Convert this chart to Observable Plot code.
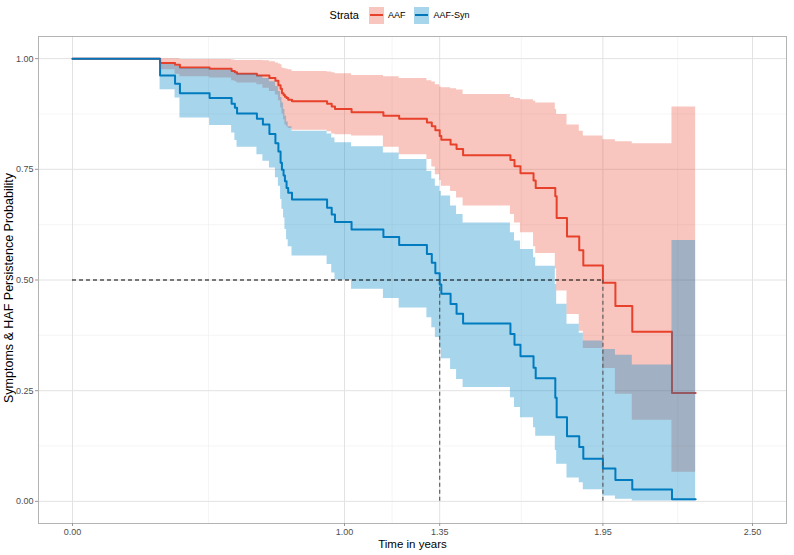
<!DOCTYPE html>
<html><head><meta charset="utf-8">
<script src="https://cdn.jsdelivr.net/npm/d3@7"></script>
<script src="https://cdn.jsdelivr.net/npm/@observablehq/plot@0.6"></script>
<style>
body{margin:0;background:#fff;font-family:"Liberation Sans",Arial,sans-serif;}
#legend{height:30px;display:flex;align-items:center;justify-content:center;padding-left:14px;color:#000;}
#legend .title{font-size:11px;margin-right:10px;}
#legend .key{position:relative;width:15px;height:17px;margin-right:4px;}
#legend .key .ln{position:absolute;left:1px;right:1px;top:7.5px;height:2px;}
#legend .lab{font-size:9px;margin-right:9px;}
</style></head><body>
<div id="legend"></div>
<div id="chart"></div>
<script>
// Shared event times (years)
const times = [0, 0.322, 0.377, 0.395, 0.504, 0.585, 0.597, 0.605, 0.678, 0.700, 0.724, 0.746, 0.757, 0.765, 0.770, 0.776, 0.781, 0.787, 0.793, 0.807, 0.936, 0.953, 0.965, 1.026, 1.143, 1.201, 1.303, 1.321, 1.334, 1.350, 1.356, 1.390, 1.412, 1.436, 1.610, 1.625, 1.647, 1.695, 1.703, 1.775, 1.780, 1.818, 1.863, 1.878, 1.950, 1.996, 2.058, 2.204];
const endTime = 2.291;

// AAF
const aafSurv = [1, 0.990, 0.986, 0.980, 0.977, 0.972, 0.969, 0.966, 0.962, 0.962, 0.956, 0.950, 0.940, 0.932, 0.922, 0.918, 0.914, 0.911, 0.907, 0.904, 0.898, 0.892, 0.886, 0.879, 0.871, 0.864, 0.856, 0.847, 0.838, 0.825, 0.817, 0.806, 0.796, 0.782, 0.771, 0.757, 0.741, 0.725, 0.708, 0.689, 0.640, 0.598, 0.567, 0.533, 0.494, 0.441, 0.383, 0.245];
const aafUpper = [1, 1, 1, 0.998, 0.998, 0.997, 0.996, 0.996, 0.996, 0.995, 0.993, 0.990, 0.988, 0.986, 0.979, 0.978, 0.977, 0.976, 0.975, 0.971, 0.970, 0.968, 0.966, 0.962, 0.959, 0.955, 0.950, 0.947, 0.941, 0.936, 0.934, 0.932, 0.929, 0.919, 0.912, 0.910, 0.907, 0.904, 0.900, 0.885, 0.874, 0.850, 0.836, 0.825, 0.817, 0.812, 0.808, 0.891];
const aafLower = [1, 0.975, 0.965, 0.959, 0.956, 0.950, 0.948, 0.945, 0.941, 0.933, 0.926, 0.918, 0.905, 0.889, 0.875, 0.862, 0.850, 0.846, 0.842, 0.838, 0.835, 0.830, 0.828, 0.825, 0.800, 0.783, 0.772, 0.755, 0.738, 0.725, 0.712, 0.700, 0.685, 0.667, 0.648, 0.629, 0.607, 0.575, 0.560, 0.525, 0.475, 0.422, 0.384, 0.345, 0.300, 0.242, 0.183, 0.066];

// AAF-Syn
const synSurv = [1, 0.962, 0.943, 0.922, 0.911, 0.898, 0.889, 0.876, 0.864, 0.851, 0.830, 0.809, 0.790, 0.765, 0.749, 0.736, 0.723, 0.708, 0.697, 0.682, 0.663, 0.648, 0.631, 0.614, 0.597, 0.579, 0.559, 0.539, 0.515, 0.490, 0.469, 0.446, 0.424, 0.402, 0.378, 0.354, 0.328, 0.302, 0.278, 0.234, 0.190, 0.147, 0.123, 0.096, 0.074, 0.048, 0.027, 0.005];
const synUpper = [1, 0.987, 0.982, 0.978, 0.974, 0.969, 0.967, 0.965, 0.960, 0.955, 0.948, 0.937, 0.926, 0.912, 0.900, 0.885, 0.870, 0.857, 0.846, 0.836, 0.830, 0.821, 0.810, 0.801, 0.787, 0.772, 0.745, 0.728, 0.712, 0.700, 0.690, 0.667, 0.648, 0.629, 0.607, 0.588, 0.569, 0.550, 0.531, 0.490, 0.445, 0.400, 0.380, 0.362, 0.343, 0.330, 0.308, 0.589];
const synLower = [1, 0.930, 0.911, 0.866, 0.849, 0.832, 0.815, 0.800, 0.783, 0.768, 0.753, 0.731, 0.712, 0.682, 0.660, 0.640, 0.614, 0.591, 0.575, 0.554, 0.535, 0.516, 0.500, 0.479, 0.458, 0.437, 0.415, 0.392, 0.370, 0.345, 0.322, 0.298, 0.275, 0.257, 0.234, 0.212, 0.189, 0.166, 0.147, 0.115, 0.084, 0.053, 0.042, 0.026, 0.012, 0.005, 0.001, 0.001];

const strataNames = ["AAF", "AAF-Syn"];
const strataColors = ["#E7412B", "#0076BA"];
const bandColors = ["#E7412B", "#0088C8"];
const bandOpacity = [0.3, 0.35];
const medianTimes = [1.35, 1.95];
const medianLevel = 0.5;

const xTicks = [0, 1, 1.35, 1.95, 2.5];
const xMinor = [0.5, 1.175, 1.65, 2.225];
const yTicks = [0, 0.25, 0.5, 0.75, 1];
const yMinor = [0.125, 0.375, 0.625, 0.875];

function rows(name, s, lo, hi) {
  const r = times.map((t, i) => ({strata: name, t, s: s[i], lo: lo[i], hi: hi[i]}));
  r.push({...r[r.length - 1], t: endTime});
  return r;
}
const aaf = rows(strataNames[0], aafSurv, aafLower, aafUpper);
const syn = rows(strataNames[1], synSurv, synLower, synUpper);

// legend
const leg = document.getElementById("legend");
leg.innerHTML = `<span class="title">Strata</span>` + strataNames.map((n, i) =>
  `<div class="key" style="background:${d3.color(bandColors[i]).copy({opacity: bandOpacity[i]})}"><div class="ln" style="background:${strataColors[i]}"></div></div><span class="lab">${n}</span>`).join("");

const fmt = d3.format(".2f");
const chart = Plot.plot({
  width: 794, height: 525,
  marginLeft: 38, marginRight: 8, marginTop: 6, marginBottom: 32,
  style: {fontFamily: "Liberation Sans, Arial, sans-serif", fontSize: "9px", background: "white"},
  x: {domain: [-0.125, 2.625]},
  y: {domain: [-0.05, 1.05]},
  marks: [
    Plot.ruleX(xMinor, {stroke: "#EFEFEF", strokeWidth: 0.6}),
    Plot.ruleY(yMinor, {stroke: "#EFEFEF", strokeWidth: 0.6}),
    Plot.ruleX(xTicks, {stroke: "#E2E2E2", strokeWidth: 1}),
    Plot.ruleY(yTicks, {stroke: "#E2E2E2", strokeWidth: 1}),
    Plot.line(aaf, {x: "t", y: "s", curve: "step-after", stroke: strataColors[0], strokeWidth: 2}),
    Plot.line(syn, {x: "t", y: "s", curve: "step-after", stroke: strataColors[1], strokeWidth: 2}),
    Plot.areaY(aaf, {x: "t", y1: "lo", y2: "hi", curve: "step-after", fill: bandColors[0], fillOpacity: bandOpacity[0]}),
    Plot.areaY(syn, {x: "t", y1: "lo", y2: "hi", curve: "step-after", fill: bandColors[1], fillOpacity: bandOpacity[1]}),
    Plot.ruleY([medianLevel], {x1: 0, x2: d3.max(medianTimes), stroke: "#000", strokeWidth: 1.1, strokeDasharray: "4,3"}),
    Plot.ruleX(medianTimes, {y1: 0, y2: medianLevel, stroke: "#555", strokeWidth: 1.1, strokeDasharray: "4,3"}),
    Plot.frame({stroke: "#B3B3B3", strokeWidth: 1}),
    Plot.axisX({ticks: xTicks, tickFormat: fmt, tickSize: 3, tickPadding: 2, stroke: "#999", fill: "#4D4D4D", label: null}),
    Plot.axisY({ticks: yTicks, tickFormat: fmt, tickSize: 3, tickPadding: 2, stroke: "#999", fill: "#4D4D4D", label: null}),
    Plot.text(["Time in years"], {frameAnchor: "bottom", dy: 24, fontSize: 11.5, fill: "#000"}),
    Plot.text(["Symptoms & HAF Persistence Probability"], {frameAnchor: "left", textAnchor: "middle", dx: -30, dy: 8, rotate: -90, fontSize: 12.5, fill: "#000"})
  ]
});
document.getElementById("chart").appendChild(chart);
</script>
</body></html>
